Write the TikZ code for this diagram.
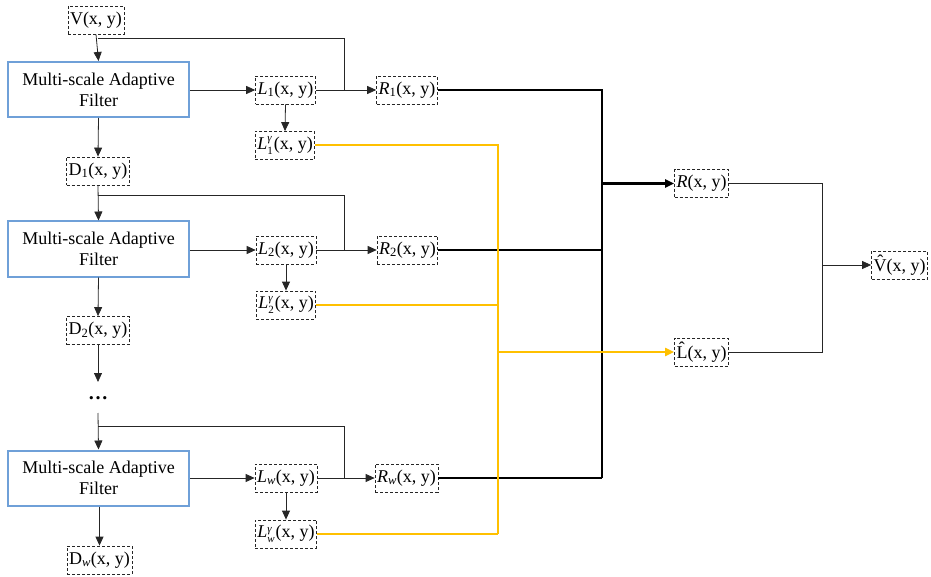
\documentclass[tikz,border=0pt]{standalone}
\usepackage{fontspec}
\setmainfont{Liberation Serif}
\usetikzlibrary{arrows.meta}
\definecolor{filterblue}{HTML}{6FA0D8}
\definecolor{ygold}{HTML}{FFC000}
\newcommand{\lsub}[1]{\textsubscript{#1}}
\newcommand{\lgam}[1]{\textit{L}\raisebox{-5pt}{\fontsize{11}{9}\selectfont\shortstack[l]{\textit{γ}\\#1}}\kern1pt}
\begin{document}
\begin{tikzpicture}[x=1pt,y=-1pt,
  font=\fontsize{18}{21}\selectfont,
  var/.style={draw=black!85,dashed,dash pattern=on 3pt off 2pt,line width=0.8pt,inner xsep=2pt,inner ysep=1pt,minimum height=28pt},
  filt/.style={draw=filterblue,line width=2pt,minimum width=181pt,minimum height=55pt,align=center,inner sep=2pt},
  arr/.style={-{Triangle[length=9pt,width=8pt]}},
  thin/.style={draw=black!85,line width=0.8pt},
  bold/.style={draw=black,line width=2.6pt},
  gold/.style={draw=ygold,line width=2pt}]
\useasboundingbox (0,0) rectangle (931,577);
% stage 1
\node[var] (V) at (96,20) {V(x, y)};
\node[filt] (M1) at (98.5,89.5) {Multi-scale Adaptive\\Filter};
\node[var] (L1) at (285.5,90) {\textit{L}\lsub{1}(x, y)};
\node[var] (R1) at (407,90) {\textit{R}\lsub{1}(x, y)};
\node[var] (G1) at (285,145.5) {\lgam{1}(x, y)};
\node[var] (D1) at (98,171) {D\lsub{1}(x, y)};
% stage 2
\node[filt] (M2) at (98.5,249) {Multi-scale Adaptive\\Filter};
\node[var] (L2) at (286,250) {\textit{L}\lsub{2}(x, y)};
\node[var] (R2) at (407.5,250) {\textit{R}\lsub{2}(x, y)};
\node[var] (G2) at (286,305) {\lgam{2}(x, y)};
\node[var] (D2) at (98,330.5) {D\lsub{2}(x, y)};
% dots
\node[inner sep=1pt,font=\fontsize{20}{20}\selectfont\bfseries] (dots) at (98,398) {…};
\coordinate (a2) at (98,382);
% stage w
\node[filt] (M3) at (98.5,478) {Multi-scale Adaptive\\Filter};
\node[var] (Lw) at (286,478) {\textit{L}\lsub{\textit{w}}(x, y)};
\node[var] (Rw) at (406.5,478) {\textit{R}\lsub{\textit{w}}(x, y)};
\node[var] (Gw) at (286,534) {\lgam{\textit{w}}(x, y)};
\node[var] (Dw) at (99.5,560) {D\lsub{\textit{w}}(x, y)};
% right
\node[var] (R) at (701.5,183.5) {\textit{R}(x, y)};
\node[var] (Lh) at (701.5,352) {\^{L}(x, y)};
\node[var] (Vh) at (899.5,265) {\^{V}(x, y)};
% coordinates
\coordinate (b1) at (98,38);   \coordinate (j1) at (344,90);
\coordinate (b2) at (98,195);  \coordinate (j2) at (344,250);
\coordinate (b3) at (98,426);  \coordinate (j3) at (344,478);
\coordinate (d3) at (98,413);
\coordinate (k1) at (602,90);  \coordinate (k3) at (602,478); \coordinate (kr) at (602,183.5);
\coordinate (y1) at (498,145.5); \coordinate (y3) at (498,534); \coordinate (yl) at (498,352);
\coordinate (m) at (822,265);
% stage 1 connectors
\draw[thin,arr] (V.south) -- (M1.north);
\draw[thin] (b1) -| (j1);
\draw[thin,arr] (M1.east |- L1) -- (L1.west);
\draw[thin,arr] (L1.east) -- (R1.west);
\draw[thin,arr] (L1.south) -- (G1.north);
\draw[thin,arr] (M1.south) -- (D1.north);
% stage 2
\draw[thin,arr] (D1.south) -- (M2.north);
\draw[thin] (b2) -| (j2);
\draw[thin,arr] (M2.east |- L2) -- (L2.west);
\draw[thin,arr] (L2.east) -- (R2.west);
\draw[thin,arr] (L2.south) -- (G2.north);
\draw[thin,arr] (M2.south) -- (D2.north);
\draw[thin,arr] (D2.south) -- (a2);
% stage w
\draw[thin,arr] (d3) -- (M3.north);
\draw[thin] (b3) -| (j3);
\draw[thin,arr] (M3.east |- Lw) -- (Lw.west);
\draw[thin,arr] (Lw.east) -- (Rw.west);
\draw[thin,arr] (Lw.south) -- (Gw.north);
\draw[thin,arr] (Dw.north |- M3.south) -- (Dw.north);
% bold R lines
\draw[bold] (R1.east) -- (k1) -- (k3);
\draw[bold] (R2.east) -- (R2.east -| k1);
\draw[bold] (Rw.east) -- (k3);
\draw[bold,arr] (kr) -- (R.west);
% gold lines
\draw[gold] (G1.east) -- (y1) -- (y3);
\draw[gold] (G2.east) -- (G2.east -| y1);
\draw[gold] (Gw.east) -- (y3);
\draw[gold,-{Triangle[length=9pt,width=8pt]}] (yl) -- (Lh.west);
% merge
\draw[thin] (R.east) -| (m);
\draw[thin] (Lh.east) -| (m);
\draw[thin,arr] (m) -- (Vh.west);
\end{tikzpicture}
\end{document}
